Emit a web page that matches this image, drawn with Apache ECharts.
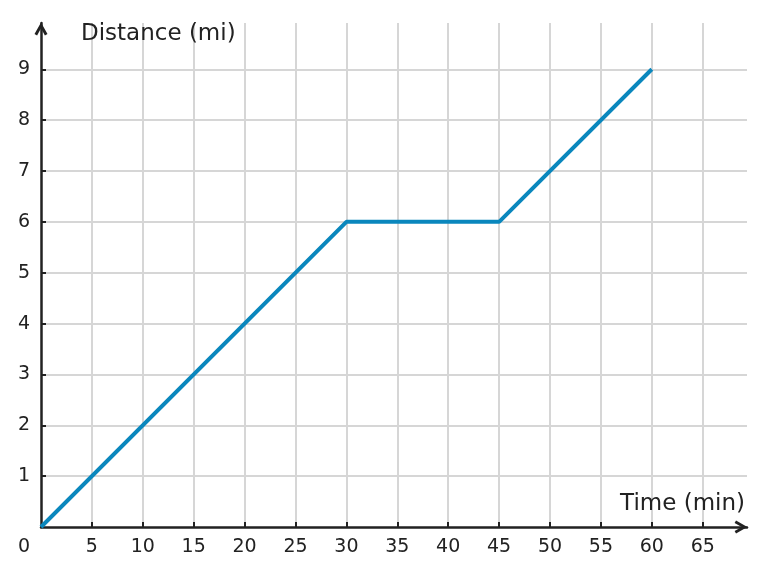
<!DOCTYPE html>
<html>
<head>
<meta charset="utf-8">
<script src="https://cdn.jsdelivr.net/npm/echarts@6/dist/echarts.min.js"></script>
<style>
  html, body { margin: 0; padding: 0; background: #fff; }
  #main { width: 771px; height: 575px; }
</style>
</head>
<body>
<div id="main"></div>
<script>
// data
var timeMin = [0, 30, 45, 60];
var distMi = [0, 6, 6, 9];
var xName = 'Time (min)';
var yName = 'Distance (mi)';
// tick labels
var xTicks = [5, 10, 15, 20, 25, 30, 35, 40, 45, 50, 55, 60, 65];
var yTicks = [0, 1, 2, 3, 4, 5, 6, 7, 8, 9];

var ink = '#222';
var font = 'DejaVu Sans';
var gridColor = '#d6d6d6';

// open chevron arrow head
var arrowPath = 'path://M0,10.5 L6,0 L12,10.5 L9.6,11.8 L6,5.2 L2.4,11.8 Z';

var points = timeMin.map(function (t, i) {
  return [t, distMi[i]];
});

var myChart = echarts.init(document.getElementById('main'));

var axisLine = {
  show: true,
  symbol: ['none', arrowPath],
  symbolSize: [13, 13],
  symbolOffset: [0, -6],
  lineStyle: { color: ink, width: 2.5 }
};

var option = {
  animation: false,
  backgroundColor: '#fff',
  title: [
    {
      text: yName, left: 81, top: 23, padding: 0,
      textStyle: { fontFamily: font, fontSize: 23, fontWeight: 'normal', color: ink }
    },
    {
      text: xName, right: 26, top: 493, padding: 0,
      textStyle: { fontFamily: font, fontSize: 23, fontWeight: 'normal', color: ink }
    }
  ],
  grid: { left: 41, right: 24, top: 23, bottom: 48, containLabel: false },
  xAxis: {
    type: 'value',
    min: 0,
    max: 69.35,
    interval: 5,
    axisLine: axisLine,
    axisTick: {
      show: true, inside: true, length: 5, customValues: xTicks,
      lineStyle: { color: ink, width: 2 }
    },
    axisLabel: {
      margin: 11,
      color: ink,
      fontFamily: font,
      fontSize: 19,
      customValues: xTicks,
      formatter: function (v) {
        return String(v);
      }
    },
    splitLine: {
      show: true,
      showMinLine: true,
      showMaxLine: true,
      lineStyle: { color: gridColor, width: 2 }
    }
  },
  yAxis: {
    type: 'value',
    min: 0,
    max: 9.91,
    interval: 1,
    axisLine: axisLine,
    axisTick: {
      show: true, inside: true, length: 5, customValues: yTicks.slice(1),
      lineStyle: { color: ink, width: 2 }
    },
    axisLabel: {
      margin: 11,
      color: ink,
      fontFamily: font,
      fontSize: 19,
      customValues: yTicks,
      formatter: function (v) {
        // origin label sits below-left of the corner
        if (v === 0) return '{o|0}';
        return String(v);
      },
      rich: {
        o: { padding: [40, 0, 0, 0], color: ink, fontFamily: font, fontSize: 19 }
      }
    },
    splitLine: {
      show: true,
      showMinLine: true,
      showMaxLine: true,
      lineStyle: { color: gridColor, width: 2 }
    }
  },
  series: [
    {
      type: 'line',
      data: points,
      symbol: 'none',
      lineStyle: { color: '#0a87bd', width: 4 },
      z: 5
    }
  ]
};

myChart.setOption(option);
</script>
</body>
</html>
